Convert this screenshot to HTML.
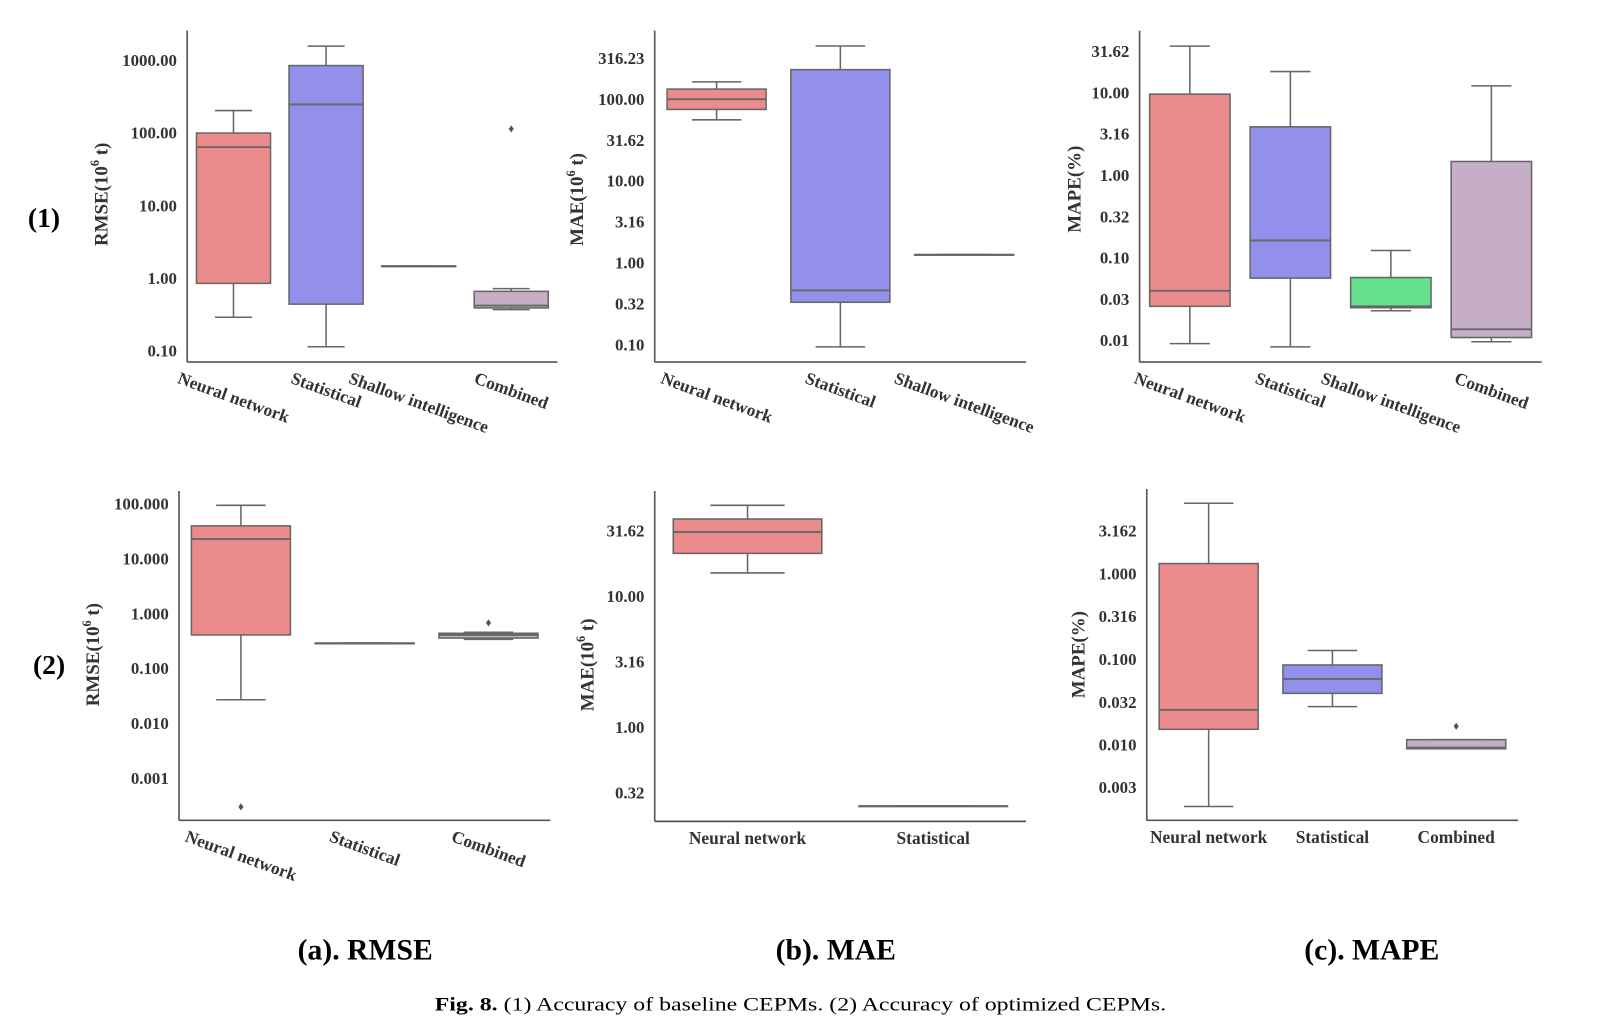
<!DOCTYPE html>
<html><head><meta charset="utf-8"><title>Fig. 8 CEPM accuracy</title>
<style>
html,body{margin:0;padding:0;background:#fff;}
svg{display:block;}
text{font-family:"Liberation Serif",serif;}
</style></head>
<body>
<svg id="fig" width="1603" height="1028" viewBox="0 0 1567 1005" preserveAspectRatio="none" xmlns="http://www.w3.org/2000/svg">
<text x="43" y="222" font-size="27" font-weight="bold" text-anchor="middle">(1)</text>
<text x="48" y="659" font-size="27" font-weight="bold" text-anchor="middle">(2)</text>
<text x="357" y="938" font-size="29" font-weight="bold" text-anchor="middle">(a). RMSE</text>
<text x="817" y="938" font-size="29" font-weight="bold" text-anchor="middle">(b). MAE</text>
<text x="1341" y="938" font-size="29" font-weight="bold" text-anchor="middle">(c). MAPE</text>
<text x="425" y="988" font-size="19" textLength="715" lengthAdjust="spacingAndGlyphs"><tspan font-weight="bold">Fig. 8.</tspan>  (1) Accuracy of baseline CEPMs. (2) Accuracy of optimized CEPMs.</text>
<g id="charts"></g>
</svg>
<script>
// ---------- data ----------
// (1a) RMSE baseline
const cats1a = ["Neural network","Statistical","Shallow intelligence","Combined"];
const lo1a  = [0.29, 0.114, 1.47, 0.37];
const q1_1a = [0.85, 0.44, 1.47, 0.39];
const med1a = [64, 248, 1.47, 0.42];
const q3_1a = [100, 850, 1.47, 0.66];
const hi1a  = [204, 1575, 1.47, 0.72];
const out1a = [[], [], [], [114]];
const ticks1a = [0.1, 1, 10, 100, 1000];
const tickLabels1a = ["0.10","1.00","10.00","100.00","1000.00"];
// (1b) MAE baseline
const cats1b = ["Neural network","Statistical","Shallow intelligence"];
const lo1b  = [56, 0.094, 1.26];
const q1_1b = [75, 0.33, 1.26];
const med1b = [100, 0.46, 1.26];
const q3_1b = [133, 230, 1.26];
const hi1b  = [163, 447, 1.26];
const out1b = [[], [], []];
const ticks1b = [0.1, 0.316, 1, 3.16, 10, 31.62, 100, 316.23];
const tickLabels1b = ["0.10","0.32","1.00","3.16","10.00","31.62","100.00","316.23"];
// (1c) MAPE baseline
const cats1c = ["Neural network","Statistical","Shallow intelligence","Combined"];
const lo1c  = [0.0092, 0.0084, 0.023, 0.0097];
const q1_1c = [0.026, 0.057, 0.025, 0.0109];
const med1c = [0.040, 0.163, 0.026, 0.0137];
const q3_1c = [9.6, 3.86, 0.058, 1.47];
const hi1c  = [36.6, 18, 0.123, 12.1];
const out1c = [[], [], [], []];
const ticks1c = [0.01, 0.0316, 0.1, 0.316, 1, 3.16, 10, 31.62];
const tickLabels1c = ["0.01","0.03","0.10","0.32","1.00","3.16","10.00","31.62"];
// (2a) RMSE optimized
const cats2a = ["Neural network","Statistical","Combined"];
const lo2a  = [0.027, 0.29, 0.34];
const q1_2a = [0.41, 0.29, 0.36];
const med2a = [23, 0.29, 0.41];
const q3_2a = [40, 0.29, 0.44];
const hi2a  = [95, 0.29, 0.46];
const out2a = [[0.0003], [], [0.68]];
const ticks2a = [0.001, 0.01, 0.1, 1, 10, 100];
const tickLabels2a = ["0.001","0.010","0.100","1.000","10.000","100.000"];
// (2b) MAE optimized
const cats2b = ["Neural network","Statistical"];
const lo2b  = [15.1, 0.25];
const q1_2b = [21.3, 0.25];
const med2b = [31, 0.25];
const q3_2b = [39, 0.25];
const hi2b  = [49.6, 0.25];
const out2b = [[], []];
const ticks2b = [0.316, 1, 3.16, 10, 31.62];
const tickLabels2b = ["0.32","1.00","3.16","10.00","31.62"];
// (2c) MAPE optimized
const cats2c = ["Neural network","Statistical","Combined"];
const lo2c  = [0.0019, 0.028, 0.009];
const q1_2c = [0.0152, 0.040, 0.009];
const med2c = [0.0257, 0.059, 0.0093];
const q3_2c = [1.32, 0.086, 0.0115];
const hi2c  = [6.7, 0.127, 0.0115];
const out2c = [[], [], [0.0165]];
const ticks2c = [0.00316, 0.01, 0.0316, 0.1, 0.316, 1, 3.162];
const tickLabels2c = ["0.003","0.010","0.032","0.100","0.316","1.000","3.162"];

const colors = {"Neural network":"#ec8b8b","Statistical":"#9290ea","Shallow intelligence":"#66e08c","Combined":"#c6aec6"};
const NS = "http://www.w3.org/2000/svg";
const root = document.getElementById("charts");

function mk(tag, attrs, parent){
  const e = document.createElementNS(NS, tag);
  for (const k in attrs) e.setAttribute(k, attrs[k]);
  (parent||root).appendChild(e);
  return e;
}

function panel(id, layout, cats, lo, q1, med, q3, hi, outs, ticks, tickLabels, title, rotateLabels){
  const g = mk("g", {});
  
  
  const L = Math.log10;
  const yScale = v => layout.yBot - (L(v) - layout.dMin) / (layout.dMax - layout.dMin) * (layout.yBot - layout.yTop);
  const band = (layout.x1 - layout.x0) / cats.length;
  const xScale = i => layout.x0 + band * (i + 0.5);
  const bw = band * 0.8;
  const stroke = "#666";
  const ya = mk("line", {x1:layout.x0, y1:layout.yTop, x2:layout.x0, y2:layout.yBot, stroke:"#555", "stroke-width":1.6}, g);
  
  
  const xa = mk("line", {x1:layout.x0, y1:layout.yBot, x2:layout.x1, y2:layout.yBot, stroke:"#555", "stroke-width":1.6}, g);
  
  
  ticks.forEach((t, i) => {
    const tx = mk("text", {x:layout.x0 - 10, y:yScale(t) + 5.5, "font-size":16.5, "font-weight":"bold", fill:"#333", "text-anchor":"end"}, g);
    tx.textContent = tickLabels[i];
    
    
  });
  const yt = mk("text", {x:0, y:0, "font-size":18.5, "font-weight":"bold", fill:"#333", "text-anchor":"middle",
    transform:"translate(" + layout.titleX + "," + layout.titleY + ") rotate(-90)"}, g);
  
  
  if (title.sup) {
    const a = mk("tspan", {}, yt); a.textContent = title.pre;
    const b = mk("tspan", {"font-size":12, dy:-8}, yt); b.textContent = "6";
    const c = mk("tspan", {dy:8}, yt); c.textContent = " t)";
  } else { yt.textContent = title.pre; }
  cats.forEach((c, i) => {
    const cx = xScale(i);
    const bg = mk("g", {}, g);
    
    
    const yq1 = yScale(q1[i]), yq3 = yScale(q3[i]);
    mk("line", {x1:cx, y1:yScale(hi[i]), x2:cx, y2:yq3, stroke:stroke, "stroke-width":1.5}, bg);
    mk("line", {x1:cx, y1:yq1, x2:cx, y2:yScale(lo[i]), stroke:stroke, "stroke-width":1.5}, bg);
    mk("line", {x1:cx - bw/4, y1:yScale(hi[i]), x2:cx + bw/4, y2:yScale(hi[i]), stroke:stroke, "stroke-width":1.5}, bg);
    mk("line", {x1:cx - bw/4, y1:yScale(lo[i]), x2:cx + bw/4, y2:yScale(lo[i]), stroke:stroke, "stroke-width":1.5}, bg);
    mk("rect", {x:cx - bw/2, y:yq3, width:bw, height:Math.max(0.5, yq1 - yq3), fill:colors[c], stroke:stroke, "stroke-width":1.5}, bg);
    mk("line", {x1:cx - bw/2, y1:yScale(med[i]), x2:cx + bw/2, y2:yScale(med[i]), stroke:stroke, "stroke-width":1.8}, bg);
    outs[i].forEach(o => {
      const oy = yScale(o);
      const d = mk("path", {d:"M" + cx + " " + (oy - 3.5) + " L" + (cx + 2.5) + " " + oy + " L" + cx + " " + (oy + 3.5) + " L" + (cx - 2.5) + " " + oy + "Z", fill:"#555"}, bg);
      
      
    });
    const lab = mk("text", {"font-size":17, "font-weight":"bold", fill:"#333", "text-anchor":"middle"}, g);
    lab.textContent = c;
    
    
    if (rotateLabels) {
      const w = lab.getComputedTextLength();
      const a = 20 * Math.PI / 180;
      const cy = layout.yBot + 8 + (w * Math.sin(a) + 16 * Math.cos(a)) / 2;
      lab.setAttribute("x", cx); lab.setAttribute("y", cy + 5);
      lab.setAttribute("transform", "rotate(20 " + cx + " " + cy + ")");
    } else {
      lab.setAttribute("x", cx); lab.setAttribute("y", layout.yBot + 22);
    }
  });
}

panel("rmse-baseline", {x0:183, x1:545, yTop:30, yBot:354, dMin:-1.155, dMax:3.41, titleX:105, titleY:190},
  cats1a, lo1a, q1_1a, med1a, q3_1a, hi1a, out1a, ticks1a, tickLabels1a, {pre:"RMSE(10", sup:true}, true);
panel("mae-baseline", {x0:640, x1:1003, yTop:30, yBot:354, dMin:-1.2125, dMax:2.8375, titleX:570, titleY:195},
  cats1b, lo1b, q1_1b, med1b, q3_1b, hi1b, out1b, ticks1b, tickLabels1b, {pre:"MAE(10", sup:true}, true);
panel("mape-baseline", {x0:1114, x1:1507, yTop:30, yBot:354, dMin:-2.26, dMax:1.75, titleX:1056, titleY:185},
  cats1c, lo1c, q1_1c, med1c, q3_1c, hi1c, out1c, ticks1c, tickLabels1c, {pre:"MAPE(%)", sup:false}, true);
panel("rmse-optimized", {x0:175, x1:538, yTop:480, yBot:802, dMin:-3.769, dMax:2.239, titleX:97, titleY:640},
  cats2a, lo2a, q1_2a, med2a, q3_2a, hi2a, out2a, ticks2a, tickLabels2a, {pre:"RMSE(10", sup:true}, true);
panel("mae-optimized", {x0:640, x1:1003, yTop:480, yBot:803, dMin:-0.719, dMax:1.805, titleX:580, titleY:650},
  cats2b, lo2b, q1_2b, med2b, q3_2b, hi2b, out2b, ticks2b, tickLabels2b, {pre:"MAE(10", sup:true}, false);
panel("mape-optimized", {x0:1121, x1:1484, yTop:478, yBot:802, dMin:-2.883, dMax:0.993, titleX:1060, titleY:640},
  cats2c, lo2c, q1_2c, med2c, q3_2c, hi2c, out2c, ticks2c, tickLabels2c, {pre:"MAPE(%)", sup:false}, false);
</script>
</body></html>
